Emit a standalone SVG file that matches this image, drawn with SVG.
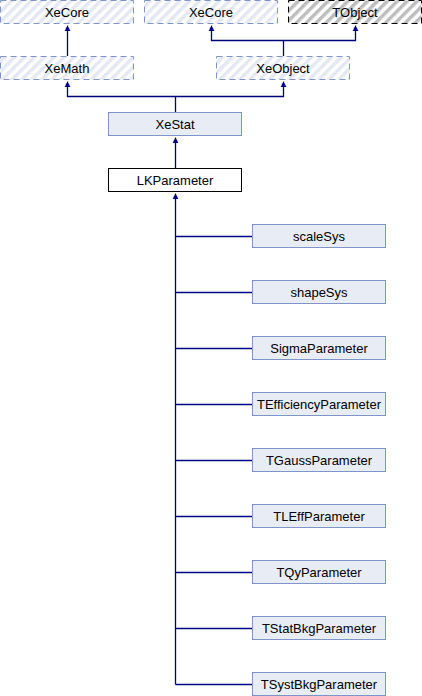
<svg xmlns="http://www.w3.org/2000/svg" xmlns:xlink="http://www.w3.org/1999/xlink" width="422" height="696" viewBox="0 0 422 696">
<style>
.n{fill:#E8ECF5;stroke:#7F94C9;stroke-width:1}
.h{fill:url(#hb);stroke:#7F94C9;stroke-width:1;stroke-dasharray:6,4}
.g{fill:url(#hg);stroke:#000;stroke-width:1;stroke-dasharray:6,4}
.w{fill:#fff;stroke:#000;stroke-width:1}
text{font-family:"Liberation Sans",Arial,sans-serif;font-size:13px;fill:#000;text-anchor:middle}
.c line,.c polyline{stroke:#000080;stroke-width:1.3;fill:none}
.c use{fill:#000080}
</style>
<defs>
<pattern id="hb" patternUnits="userSpaceOnUse" width="7" height="7" patternTransform="rotate(45)">
<rect width="7" height="7" fill="#fff"/><rect width="3.5" height="7" fill="#E3E8F3"/>
</pattern>
<pattern id="hg" patternUnits="userSpaceOnUse" width="7" height="7" patternTransform="rotate(45)">
<rect width="7" height="7" fill="#fff"/><rect width="3.5" height="7" fill="#BDBDBD"/>
</pattern>
<path id="ah" d="M0,0 L-2.8,6 L2.8,6 Z"/>
</defs>
<g id="XeCore1"><rect class="h" x="0.5" y="0.5" width="133" height="23"/><text x="67" y="16.5">XeCore</text></g>
<g id="XeCore2"><rect class="h" x="144.5" y="0.5" width="133" height="23"/><text x="211" y="16.5">XeCore</text></g>
<g id="TObject"><rect class="g" x="288.5" y="0.5" width="133" height="23"/><text x="355" y="16.5">TObject</text></g>
<g id="XeMath"><rect class="h" x="0.5" y="56.5" width="133" height="23"/><text x="67" y="72.5">XeMath</text></g>
<g id="XeObject"><rect class="h" x="216.5" y="56.5" width="133" height="23"/><text x="283" y="72.5">XeObject</text></g>
<g id="XeStat"><rect class="n" x="108.5" y="112.5" width="133" height="23"/><text x="175" y="128.5">XeStat</text></g>
<g id="LKParameter"><rect class="w" x="108.5" y="168.5" width="133" height="23"/><text x="175" y="184.5">LKParameter</text></g>
<g id="scaleSys"><rect class="n" x="252.5" y="224.5" width="133" height="23"/><text x="319" y="240.5">scaleSys</text></g>
<g id="shapeSys"><rect class="n" x="252.5" y="280.5" width="133" height="23"/><text x="319" y="296.5">shapeSys</text></g>
<g id="SigmaParameter"><rect class="n" x="252.5" y="336.5" width="133" height="23"/><text x="319" y="352.5">SigmaParameter</text></g>
<g id="TEfficiencyParameter"><rect class="n" x="252.5" y="392.5" width="133" height="23"/><text x="319" y="408.5">TEfficiencyParameter</text></g>
<g id="TGaussParameter"><rect class="n" x="252.5" y="448.5" width="133" height="23"/><text x="319" y="464.5">TGaussParameter</text></g>
<g id="TLEffParameter"><rect class="n" x="252.5" y="504.5" width="133" height="23"/><text x="319" y="520.5">TLEffParameter</text></g>
<g id="TQyParameter"><rect class="n" x="252.5" y="560.5" width="133" height="23"/><text x="319" y="576.5">TQyParameter</text></g>
<g id="TStatBkgParameter"><rect class="n" x="252.5" y="616.5" width="133" height="23"/><text x="319" y="632.5">TStatBkgParameter</text></g>
<g id="TSystBkgParameter"><rect class="n" x="252.5" y="672.5" width="133" height="23"/><text x="319" y="688.5">TSystBkgParameter</text></g>
<g id="connectors" class="c">
<line x1="67.5" y1="56" x2="67.5" y2="30"/>
<use xlink:href="#ah" x="67.5" y="25"/>
<line x1="283.5" y1="56" x2="283.5" y2="40.5"/>
<polyline points="211.5,30 211.5,40.5 355.5,40.5 355.5,30"/>
<use xlink:href="#ah" x="211.5" y="25"/>
<use xlink:href="#ah" x="355.5" y="25"/>
<line x1="175.5" y1="112" x2="175.5" y2="96.5"/>
<polyline points="67.5,86 67.5,96.5 283.5,96.5 283.5,86"/>
<use xlink:href="#ah" x="67.5" y="81"/>
<use xlink:href="#ah" x="283.5" y="81"/>
<line x1="175.5" y1="168" x2="175.5" y2="142"/>
<use xlink:href="#ah" x="175.5" y="137"/>
<use xlink:href="#ah" x="175.5" y="193"/>
<line x1="175.5" y1="198" x2="175.5" y2="684.5"/>
<line x1="175.5" y1="236.5" x2="252" y2="236.5"/>
<line x1="175.5" y1="292.5" x2="252" y2="292.5"/>
<line x1="175.5" y1="348.5" x2="252" y2="348.5"/>
<line x1="175.5" y1="404.5" x2="252" y2="404.5"/>
<line x1="175.5" y1="460.5" x2="252" y2="460.5"/>
<line x1="175.5" y1="516.5" x2="252" y2="516.5"/>
<line x1="175.5" y1="572.5" x2="252" y2="572.5"/>
<line x1="175.5" y1="628.5" x2="252" y2="628.5"/>
<line x1="175.5" y1="684.5" x2="252" y2="684.5"/>
</g>
</svg>
